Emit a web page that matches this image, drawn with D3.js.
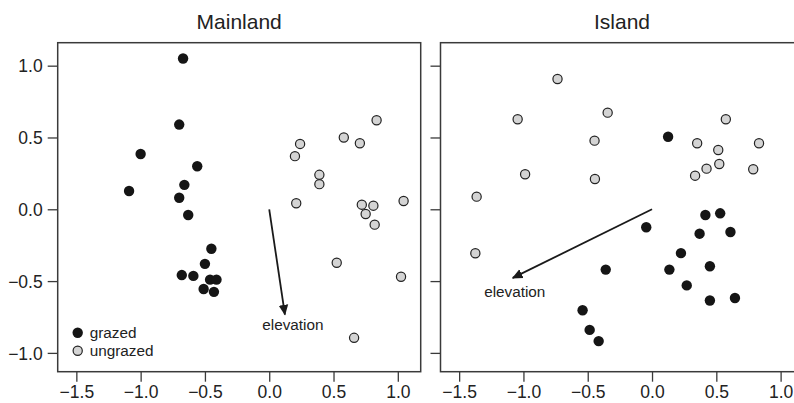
<!DOCTYPE html>
<html lang="en">
<head>
  <meta charset="UTF-8">
  <title>Mainland / Island ordination</title>
  <script src="https://d3js.org/d3.v7.min.js"></script>
  <style>
    body, html {
      margin: 0;
      padding: 0;
      background: #fff;
      overflow: hidden;
    }
    svg {
      display: block;
      font-family: "Liberation Sans", Arial, Helvetica, sans-serif;
    }
    .frame {
      fill: none;
      stroke: #3a3a3a;
      stroke-width: 1.5px;
    }
    .tick line {
      stroke: #3a3a3a;
      stroke-width: 1.3px;
    }
    .tick text {
      fill: #222;
      font-size: 17.5px;
    }
  </style>
</head>
<body>
  <svg id="chart"></svg>

  <script>
    // site scores, [axis1, axis2]
    const mainlandGrazed = [
      [-0.67, 1.05], [-0.70, 0.59], [-1.00, 0.385], [-0.56, 0.30],
      [-0.66, 0.17], [-1.09, 0.127], [-0.70, 0.08], [-0.63, -0.04],
      [-0.45, -0.275], [-0.50, -0.38], [-0.68, -0.458], [-0.59, -0.464],
      [-0.46, -0.49], [-0.41, -0.49], [-0.51, -0.555], [-0.43, -0.575]
    ];
    const mainlandUngrazed = [
      [0.24, 0.455], [0.20, 0.37], [0.58, 0.50], [0.705, 0.46],
      [0.835, 0.62], [0.39, 0.24], [0.39, 0.175], [0.21, 0.042],
      [0.72, 0.032], [0.81, 0.025], [0.75, -0.033], [0.82, -0.107],
      [1.045, 0.058], [0.525, -0.372], [1.025, -0.47], [0.66, -0.895]
    ];
    const islandGrazed = [
      [0.125, 0.505], [-0.045, -0.125], [0.415, -0.04], [0.53, -0.028],
      [0.37, -0.17], [0.61, -0.158], [0.225, -0.305], [0.135, -0.42],
      [0.45, -0.397], [-0.36, -0.42], [0.27, -0.53], [0.45, -0.635],
      [0.645, -0.618], [-0.54, -0.703], [-0.485, -0.84], [-0.415, -0.918]
    ];
    const islandUngrazed = [
      [-0.735, 0.907], [-1.045, 0.627], [-0.345, 0.673], [-0.447, 0.478],
      [-0.987, 0.244], [-0.444, 0.211], [0.574, 0.627], [0.351, 0.46],
      [0.515, 0.413], [0.832, 0.46], [0.523, 0.315], [0.424, 0.283],
      [0.335, 0.234], [0.787, 0.279], [-1.364, 0.088], [-1.374, -0.306]
    ];
    // environmental vector (elevation) tips
    const mainlandArrow = [0.122, -0.733];
    const islandArrow = [-1.083, -0.478];

    const xTicks = [-1.5, -1.0, -0.5, 0.0, 0.5, 1.0];
    const yTicks = [-1.0, -0.5, 0.0, 0.5, 1.0];
    const panelTitles = ["Mainland", "Island"];
    const legendLabels = ["grazed", "ungrazed"];

    const width = 794;
    const height = 403;
    const svg = d3.select("#chart").attr("width", width).attr("height", height);

    const defs = svg.append("defs");
    defs.append("marker")
      .attr("id", "head")
      .attr("viewBox", "0 0 10 10")
      .attr("refX", 9)
      .attr("refY", 5)
      .attr("markerWidth", 6)
      .attr("markerHeight", 6)
      .attr("markerUnits", "strokeWidth")
      .attr("orient", "auto")
      .append("path")
      .attr("d", "M0,0.6 L10,5 L0,9.4 Z")
      .attr("fill", "#1a1a1a");

    const plotTop = 42.7, plotBottom = 371.7, panelW = 363;
    const lefts = [57.7, 440.5];

    const y = d3.scaleLinear().domain([-1.131, 1.160]).range([plotBottom, plotTop]);

    const fmt = d3.format(".1f");

    const panels = [
      { title: panelTitles[0], grazed: mainlandGrazed, ungrazed: mainlandUngrazed,
        arrow: mainlandArrow, labelOffset: [8, 15], legend: true, yLabels: true },
      { title: panelTitles[1], grazed: islandGrazed, ungrazed: islandUngrazed,
        arrow: islandArrow, labelOffset: [2, 19], legend: false, yLabels: false }
    ];

    panels.forEach((p, i) => {
      const x0 = lefts[i];
      const x = d3.scaleLinear().domain([-1.645, 1.178]).range([x0, x0 + panelW]);
      const g = svg.append("g");

      // title
      g.append("text")
        .attr("x", x0 + panelW / 2)
        .attr("y", 29)
        .attr("text-anchor", "middle")
        .attr("font-size", 21)
        .attr("fill", "#222")
        .text(p.title);

      // axes
      const xAxis = g.append("g")
        .attr("transform", `translate(0,${plotBottom})`)
        .call(d3.axisBottom(x).tickValues(xTicks).tickFormat(fmt).tickSize(10).tickPadding(4));
      xAxis.select(".domain").remove();

      const yAxis = g.append("g")
        .attr("transform", `translate(${x0},0)`)
        .call(d3.axisLeft(y).tickValues(yTicks)
          .tickFormat(p.yLabels ? fmt : () => "").tickSize(10).tickPadding(5));
      yAxis.select(".domain").remove();
      yAxis.selectAll("text").attr("dy", "0.36em");

      // frame
      g.append("rect")
        .attr("class", "frame")
        .attr("x", x0)
        .attr("y", plotTop)
        .attr("width", panelW)
        .attr("height", plotBottom - plotTop);

      // arrow
      g.append("line")
        .attr("x1", x(0)).attr("y1", y(0))
        .attr("x2", x(p.arrow[0])).attr("y2", y(p.arrow[1]))
        .attr("stroke", "#1a1a1a")
        .attr("stroke-width", 1.8)
        .attr("marker-end", "url(#head)");

      g.append("text")
        .attr("x", x(p.arrow[0]) + p.labelOffset[0])
        .attr("y", y(p.arrow[1]) + p.labelOffset[1])
        .attr("text-anchor", "middle")
        .attr("font-size", 15.3)
        .attr("fill", "#222")
        .text("elevation");

      // points
      g.selectAll(".ung")
        .data(p.ungrazed)
        .join("circle")
        .attr("class", "ung")
        .attr("cx", d => x(d[0]))
        .attr("cy", d => y(d[1]))
        .attr("r", 4.6)
        .attr("fill", "#d4d4d4")
        .attr("stroke", "#222")
        .attr("stroke-width", 1.2);

      g.selectAll(".gr")
        .data(p.grazed)
        .join("circle")
        .attr("class", "gr")
        .attr("cx", d => x(d[0]))
        .attr("cy", d => y(d[1]))
        .attr("r", 5.2)
        .attr("fill", "#151515");

      if (p.legend) {
        const leg = g.append("g").attr("transform", "translate(77.7,332.7)");
        legendLabels.forEach((lab, j) => {
          leg.append("circle")
            .attr("cx", 0)
            .attr("cy", j * 18)
            .attr("r", j === 0 ? 5.2 : 4.6)
            .attr("fill", j === 0 ? "#151515" : "#d4d4d4")
            .attr("stroke", j === 0 ? "none" : "#222")
            .attr("stroke-width", 1.2);
          leg.append("text")
            .attr("x", 12)
            .attr("y", j * 18)
            .attr("dy", "0.35em")
            .attr("font-size", 15.3)
            .attr("fill", "#222")
            .text(lab);
        });
      }
    });
  </script>
</body>
</html>
